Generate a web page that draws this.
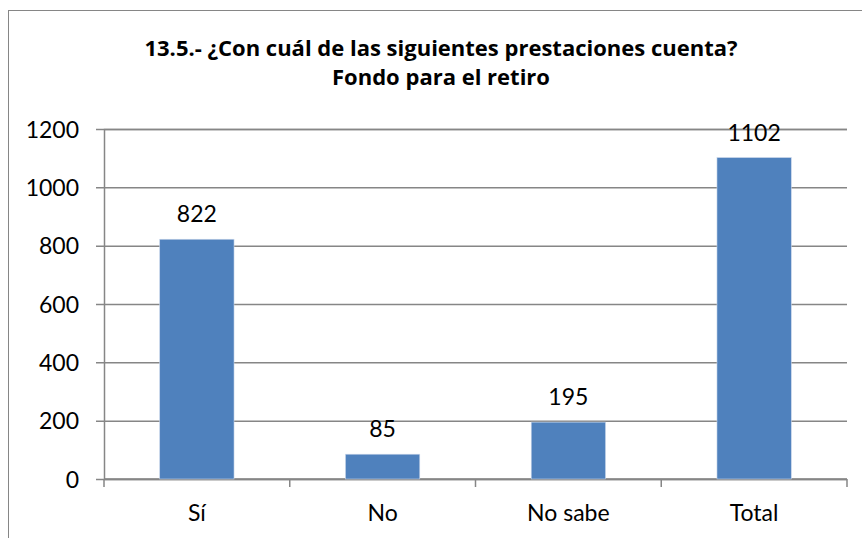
<!DOCTYPE html>
<html>
<head>
<meta charset="utf-8">
<script src="https://cdn.jsdelivr.net/npm/d3@7"></script>
<style>
  body { margin: 0; background: #fff; }
  svg text { font-family: Lato, "Open Sans", sans-serif; fill: #000; }
  svg text.title { font-family: "Open Sans", Lato, sans-serif; }
</style>
</head>
<body>
<svg class="chart-svg"></svg>
<script>
const WIDTH = 862;
const HEIGHT = 538;

const categories = ["Sí", "No", "No sabe", "Total"];
const values = [822, 85, 195, 1102];
const yTicks = [0, 200, 400, 600, 800, 1000, 1200];
const titleLines = [
  "13.5.- ¿Con cuál de las siguientes prestaciones cuenta?",
  "Fondo para el retiro"
];

const COLOR = "#4F81BD";
const GRID = "#868686";

const margin = { left: 104, right: 15, top: 129, bottom: 59 };

const svg = d3
  .select(".chart-svg")
  .attr("width", WIDTH)
  .attr("height", HEIGHT);

// outer chart frame (cropped at right/bottom)
svg
  .append("rect")
  .attr("x", 8.5)
  .attr("y", 10.5)
  .attr("width", WIDTH + 10)
  .attr("height", HEIGHT + 10)
  .attr("fill", "none")
  .attr("stroke", GRID)
  .attr("stroke-width", 1);

const xScale = d3
  .scaleBand()
  .domain(categories)
  .range([margin.left, WIDTH - margin.right])
  .paddingInner(0.6)
  .paddingOuter(0.3);

const yScale = d3
  .scaleLinear()
  .domain([0, 1200])
  .range([HEIGHT - margin.bottom, margin.top]);

// gridlines + y ticks
const yAxis = d3
  .axisLeft(yScale)
  .tickValues(yTicks)
  .tickFormat(d3.format("d"))
  .tickSize(-(WIDTH - margin.right - margin.left))
  .tickPadding(25);

const gy = svg
  .append("g")
  .attr("class", "axis y-axis")
  .attr("transform", `translate(${margin.left}, 0)`)
  .call(yAxis);

gy.select(".domain").attr("stroke", GRID).attr("stroke-width", 1.5);
gy.selectAll(".tick line")
  .attr("stroke", GRID)
  .attr("stroke-width", 1.5)
  .attr("x1", -8);
gy.selectAll(".tick text")
  .style("font-size", "23px")
  .attr("dy", "0.36em");

// x axis with category boundary ticks
const bounds = d3
  .range(categories.length + 1)
  .map(i => margin.left + (i * (WIDTH - margin.right - margin.left)) / categories.length);

const gx = svg.append("g").attr("class", "axis x-axis");
gx.append("line")
  .attr("x1", margin.left)
  .attr("x2", WIDTH - margin.right)
  .attr("y1", yScale(0))
  .attr("y2", yScale(0))
  .attr("stroke", GRID)
  .attr("stroke-width", 1.5);
gx.selectAll(".bound")
  .data(bounds)
  .enter()
  .append("line")
  .attr("class", "bound")
  .attr("x1", d => d)
  .attr("x2", d => d)
  .attr("y1", yScale(0))
  .attr("y2", yScale(0) + 8)
  .attr("stroke", GRID)
  .attr("stroke-width", 1.5);
gx.selectAll(".cat")
  .data(categories)
  .enter()
  .append("text")
  .attr("class", "cat")
  .attr("x", d => xScale(d) + xScale.bandwidth() / 2)
  .attr("y", yScale(0) + 42)
  .attr("text-anchor", "middle")
  .style("font-size", "23px")
  .text(d => d);

// bars
const data = categories.map((c, i) => ({ cat: c, value: values[i] }));

svg
  .selectAll(".bar")
  .data(data)
  .enter()
  .append("rect")
  .attr("class", "bar")
  .attr("x", d => xScale(d.cat))
  .attr("y", d => yScale(d.value))
  .attr("width", xScale.bandwidth())
  .attr("height", d => yScale(0) - yScale(d.value))
  .attr("fill", COLOR)
  .attr("stroke", "#c9d6ea")
  .attr("stroke-width", 0.6);

svg
  .selectAll(".val")
  .data(data)
  .enter()
  .append("text")
  .attr("class", "val")
  .attr("x", d => xScale(d.cat) + xScale.bandwidth() / 2)
  .attr("y", d => yScale(d.value) - 17)
  .attr("text-anchor", "middle")
  .style("font-size", "23px")
  .text(d => d.value);

// title
svg
  .append("g")
  .selectAll("text")
  .data(titleLines)
  .enter()
  .append("text")
  .attr("class", "title")
  .attr("x", 441)
  .attr("y", (d, i) => 56 + i * 29)
  .attr("text-anchor", "middle")
  .style("font-size", "22px")
  .style("font-weight", "bold")
  .text(d => d);
</script>
</body>
</html>
